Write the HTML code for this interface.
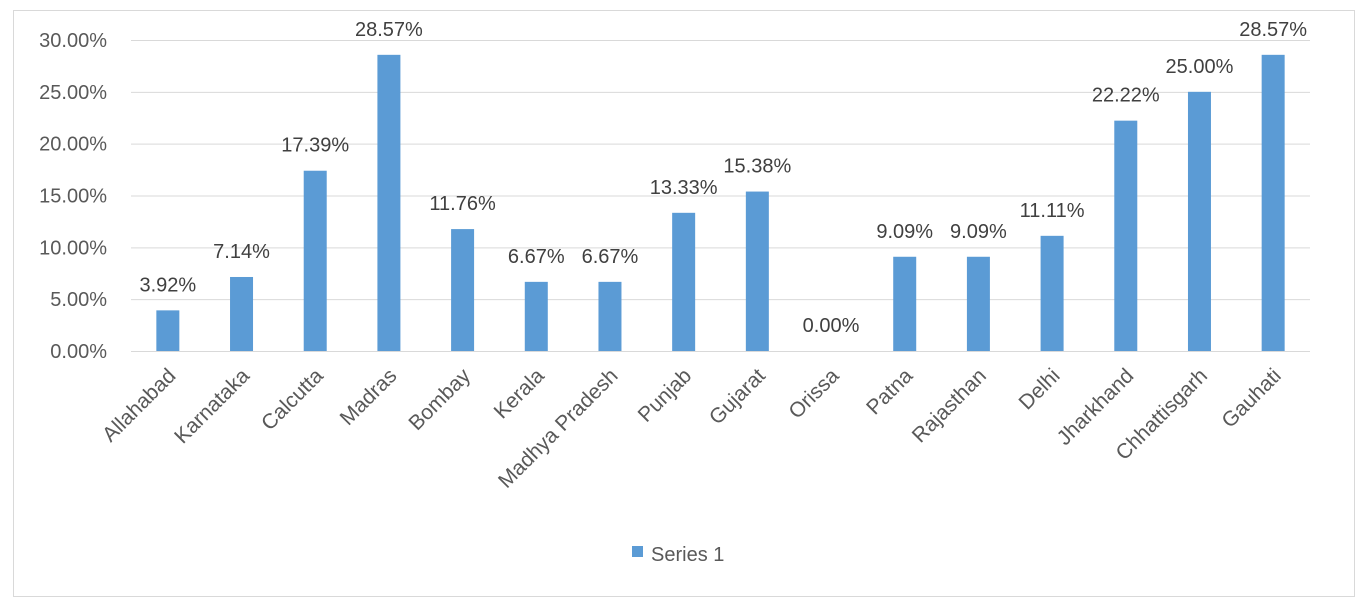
<!DOCTYPE html>
<html><head><meta charset="utf-8"><style>
body{margin:0;background:#fff;}
svg{display:block;font-family:"Liberation Sans",sans-serif;}
</style></head><body>
<svg id="chart" width="1364" height="614">
<rect x="13.5" y="10.5" width="1341" height="586" fill="#fff" stroke="#d9d9d9"/>
<g id="grid"></g><g id="bars"></g><g id="labels"></g><g id="xlabels"></g>
<g>
<rect x="632" y="546" width="11" height="11" fill="#5b9bd5"/>
<text x="651" y="561" font-size="20" fill="#595959">Series 1</text>
</g>
</svg>
<script>
const categories=["Allahabad","Karnataka","Calcutta","Madras","Bombay","Kerala","Madhya Pradesh","Punjab","Gujarat","Orissa","Patna","Rajasthan","Delhi","Jharkhand","Chhattisgarh","Gauhati"];
const values=[3.92,7.14,17.39,28.57,11.76,6.67,6.67,13.33,15.38,0,9.09,9.09,11.11,22.22,25.00,28.57];
const ticks=[0,5,10,15,20,25,30];
const NS="http://www.w3.org/2000/svg";
const x0=131,x1=1310,y0=351,y30=40;
const y=v=>y0-(v/30)*(y0-y30);
const bw=(x1-x0)/categories.length;
const xc=i=>x0+bw*(i+0.5);
function mk(t,a,p){const e=document.createElementNS(NS,t);for(const k in a)e.setAttribute(k,a[k]);p.appendChild(e);return e;}
const grid=document.getElementById('grid');
ticks.forEach(t=>{
 const l=mk('line',{x1:x0,x2:x1,y1:y(t)+0.5,y2:y(t)+0.5,stroke:'#d9d9d9','stroke-width':1},grid);
 
 
 const tx=mk('text',{x:107,y:y(t)+7,'text-anchor':'end','font-size':20,fill:'#595959'},grid);
 tx.textContent=t.toFixed(2)+'%';
 
 
});
const bars=document.getElementById('bars'),labels=document.getElementById('labels'),xl=document.getElementById('xlabels');
categories.forEach((c,i)=>{
 const v=values[i];
 const r=mk('rect',{x:xc(i)-11.5,y:y(v),width:23,height:y0-y(v),fill:'#5b9bd5'},bars);
 
 
 const t=mk('text',{x:xc(i),y:y(v)-19,'text-anchor':'middle','font-size':20,fill:'#404040'},labels);
 t.textContent=v.toFixed(2)+'%';
 
 
 const cx=xc(i)+9,cy=377;
 const xt=mk('text',{x:cx,y:cy,'text-anchor':'end','font-size':21,fill:'#595959',transform:`rotate(-45 ${cx} ${cy})`},xl);
 xt.textContent=c;
 
 
});
</script>
</body></html>
